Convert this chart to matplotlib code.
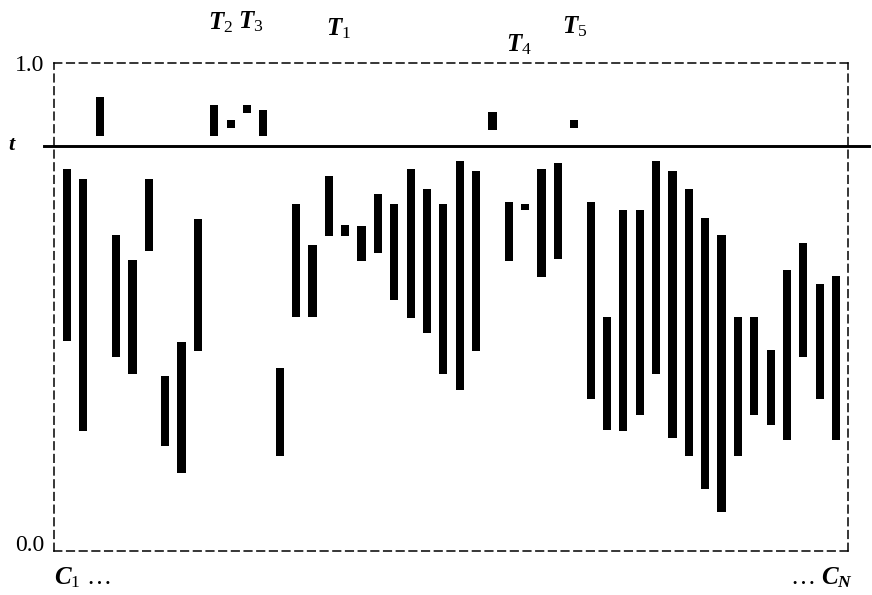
import matplotlib
matplotlib.use("Agg")
import matplotlib.pyplot as plt
import numpy as np

plt.rcParams['font.family'] = ['Liberation Serif', 'DejaVu Serif']
plt.rcParams['mathtext.fontset'] = 'custom'
plt.rcParams['mathtext.it'] = 'Liberation Serif:italic:bold'
plt.rcParams['mathtext.rm'] = 'Liberation Serif'
plt.rcParams['mathtext.bf'] = 'Liberation Serif:bold'

# threshold
t = 0.83

# candidate columns C1..CN, each with an interval [low, high]
columns = np.arange(1, 49)
high = [0.783, 0.762, 0.930, 0.648, 0.596, 0.762, 0.359, 0.428, 0.680, 0.914,
        0.883, 0.914, 0.904, 0.375, 0.711, 0.627, 0.768, 0.668, 0.666, 0.732,
        0.711, 0.783, 0.742, 0.711, 0.799, 0.779, 0.900, 0.715, 0.711, 0.783,
        0.795, 0.883, 0.715, 0.480, 0.699, 0.699, 0.799, 0.779, 0.742, 0.682,
        0.648, 0.480, 0.480, 0.412, 0.576, 0.631, 0.547, 0.564]
low = [0.430, 0.246, 0.850, 0.398, 0.363, 0.615, 0.215, 0.160, 0.410, 0.850,
       0.867, 0.898, 0.850, 0.195, 0.480, 0.480, 0.645, 0.645, 0.594, 0.611,
       0.514, 0.477, 0.447, 0.363, 0.330, 0.410, 0.863, 0.594, 0.699, 0.561,
       0.598, 0.867, 0.311, 0.248, 0.246, 0.279, 0.363, 0.232, 0.195, 0.127,
       0.080, 0.195, 0.279, 0.258, 0.227, 0.398, 0.311, 0.227]

# labels for the columns that pass the threshold
top_labels = ['$T_2$', '$T_3$', '$T_1$', '$T_4$', '$T_5$']
top_label_x = [10.4, 12.2, 17.6, 28.6, 32.0]
top_label_y = [1.068, 1.070, 1.057, 1.023, 1.061]

fig = plt.figure(figsize=(8.72, 5.95), dpi=100)
ax = fig.add_axes([54 / 872, 44 / 595, 794 / 872, 488 / 595])

ax.bar(columns, np.array(high) - np.array(low), bottom=low, width=0.5,
       color='black', linewidth=0)

ax.set_xlim(0.205, 48.73)
ax.set_ylim(0, 1)

for s in ax.spines.values():
    s.set_linestyle((0, (5, 3.3)))
    s.set_linewidth(1.1)

ax.axhline(t, xmin=-0.012, xmax=1.027, color='black', lw=2.1, clip_on=False)

ax.set_xticks([])
ax.set_yticks([0, 1])
ax.set_yticklabels(['0.0', '1.0'], fontsize=17)
ax.tick_params(axis='y', length=0, pad=7)
ax.get_yticklabels()[0].set_va('baseline')

ax.text(-0.053, t, '$t$', transform=ax.get_yaxis_transform(),
        ha='center', va='center', fontsize=16)

for lab, x, y in zip(top_labels, top_label_x, top_label_y):
    ax.text(x, y, lab, ha='center', va='baseline', fontsize=18, clip_on=False)

ax.text(0.0, -0.055, '$C_1$ \u2026', transform=ax.transAxes,
        ha='left', va='center', fontsize=18)
ax.text(1.007, -0.055, '\u2026 $C_N$', transform=ax.transAxes,
        ha='right', va='center', fontsize=18)

fig.savefig('out.png', dpi=100)
